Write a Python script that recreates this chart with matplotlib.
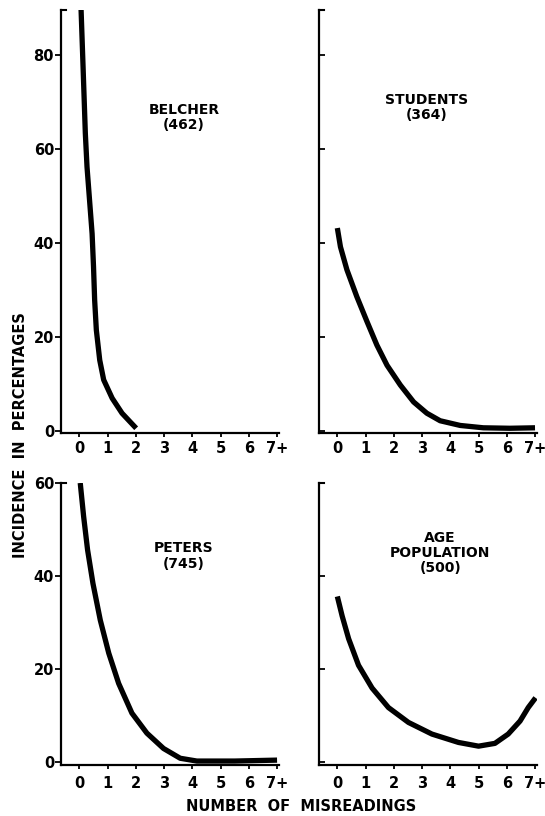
import numpy as np
import matplotlib
matplotlib.use("Agg")
import matplotlib.pyplot as plt

# Incidence (%) of each number of misreadings, four groups
belcher_x = [0.0, 0.06, 0.13, 0.21, 0.27, 0.36, 0.45, 0.5, 0.54, 0.6, 0.72,
             0.86, 1.16, 1.51, 2.01]
belcher_y = [92, 89.6, 77.5, 63.4, 56.2, 49.1, 42, 35, 27.9, 21.5, 15.1,
             10.9, 7, 3.8, 0.6]

students_x = [0.0, 0.11, 0.34, 0.69, 1.05, 1.4, 1.76, 2.23, 2.7, 3.17, 3.64,
              4.35, 5.17, 6.11, 7.0]
students_y = [43.2, 39.2, 34.3, 28.6, 23.3, 18.3, 14, 9.8, 6.2, 3.8, 2.2,
              1.2, 0.7, 0.6, 0.7]

peters_x = [0.03, 0.15, 0.29, 0.48, 0.74, 1.04, 1.39, 1.86, 2.39, 2.98, 3.57,
            4.16, 5.5, 7.0]
peters_y = [60, 52.8, 45.6, 38.4, 30.5, 23.4, 16.9, 10.5, 6.2, 2.9, 0.8,
            0.2, 0.2, 0.4]

agepop_x = [0.0, 0.17, 0.4, 0.75, 1.23, 1.81, 2.52, 3.35, 4.29, 5.0, 5.58,
            6.05, 6.47, 6.76, 7.02]
agepop_y = [35.6, 31.4, 26.5, 20.8, 15.9, 11.7, 8.5, 6.0, 4.2, 3.4, 4.0,
            6.0, 8.8, 11.7, 13.8]

xticks = [0, 1, 2, 3, 4, 5, 6, 7]
xticklabels = ['0', '1', '2', '3', '4', '5', '6', '7+']
top_yticks = [0, 20, 40, 60, 80]
bottom_yticks = [0, 20, 40, 60]

panels = [
    (belcher_x, belcher_y, 'BELCHER\n(462)', (3.7, 66.8)),
    (students_x, students_y, 'STUDENTS\n(364)', (3.17, 68.8)),
    (peters_x, peters_y, 'PETERS\n(745)', (3.7, 44.3)),
    (agepop_x, agepop_y, 'AGE\nPOPULATION\n(500)', (3.64, 44.9)),
]

plt.rcParams['font.family'] = ['DejaVu Sans']
plt.rcParams['font.weight'] = 'bold'

fig = plt.figure(figsize=(5.45, 8.16), dpi=100)
rects = [
    [0.112, 0.4694, 0.40, 0.5184],
    [0.5853, 0.4694, 0.40, 0.5184],
    [0.112, 0.0625, 0.40, 0.3456],
    [0.5853, 0.0625, 0.40, 0.3456],
]

for i, (rect, (xs, ys, label, lpos)) in enumerate(zip(rects, panels)):
    ax = fig.add_axes(rect)
    ax.plot(xs, ys, color='black', lw=3.8, solid_capstyle='butt',
            solid_joinstyle='round')
    ax.set_xlim(-0.65, 7.07)
    if i < 2:
        ax.set_ylim(-0.4, 89.6)
        ax.set_yticks(top_yticks)
    else:
        ax.set_ylim(-0.65, 60)
        ax.set_yticks(bottom_yticks)
    ax.set_xticks(xticks)
    ax.set_xticklabels(xticklabels, fontsize=10.5, fontweight='bold')
    for side in ('top', 'right'):
        ax.spines[side].set_visible(False)
    for side in ('left', 'bottom'):
        ax.spines[side].set_linewidth(1.6)
    ax.tick_params(axis='x', length=3, width=1.3, pad=3 if i < 2 else 5)
    if i % 2 == 0:
        ax.tick_params(axis='y', direction='out', length=4, width=1.3, pad=1,
                       labelsize=10.5)
        ax.set_yticklabels([str(t) for t in ax.get_yticks()], fontweight='bold')
    else:
        ax.tick_params(axis='y', direction='in', length=4, width=1.3,
                       labelleft=False)
    # short cap at the top of the y axis
    ax.plot([0, 0.025], [1, 1], transform=ax.transAxes, color='black',
            lw=1.5, clip_on=False)
    ax.text(lpos[0], lpos[1], label, ha='center', va='center', fontsize=10,
            fontweight='bold', linespacing=1.1)

fig.text(0.038, 0.467, 'INCIDENCE  IN  PERCENTAGES', rotation=90,
         ha='center', va='center', fontsize=10.5, fontweight='bold')
fig.text(0.553, 0.012, 'NUMBER  OF  MISREADINGS', ha='center', va='center',
         fontsize=10.5, fontweight='bold')

fig.savefig('out.png', dpi=100)
